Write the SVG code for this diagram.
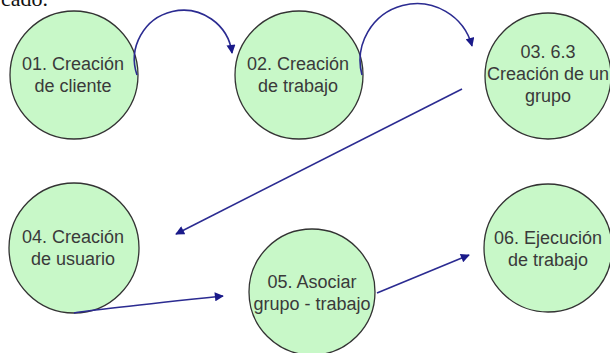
<svg xmlns="http://www.w3.org/2000/svg" width="610" height="353" viewBox="0 0 610 353">
<style>
.node circle{fill:#c8f8c8;stroke:#333;stroke-width:1.3}
.node text{font-family:"Liberation Sans",Arial,sans-serif;font-size:18px;fill:#3a3a3a;text-anchor:middle}
.edge{fill:none;stroke:#2b2b91;stroke-width:1.6;marker-end:url(#ah)}
</style>
<defs>
<marker id="ah" viewBox="0 0 10 10" refX="9" refY="5" markerWidth="10" markerHeight="9" markerUnits="userSpaceOnUse" orient="auto">
<path d="M0,0 L10,5 L0,10 z" fill="#1a1a8a"/>
</marker>
</defs>
<rect width="610" height="353" fill="#fff"/>
<text x="1" y="6" font-family="Liberation Serif,serif" font-size="22" fill="#111">cado.</text>
<g id="n1" class="node"><circle cx="74" cy="75" r="64"/><text x="73" y="70">01. Creación</text><text x="73" y="92">de cliente</text></g>
<g id="n2" class="node"><circle cx="299" cy="75" r="64"/><text x="298" y="70">02. Creación</text><text x="298" y="92">de trabajo</text></g>
<g id="n3" class="node"><circle cx="548" cy="76" r="63"/><text x="548" y="58">03. 6.3</text><text x="548" y="80">Creación de un</text><text x="548" y="102">grupo</text></g>
<g id="n4" class="node"><circle cx="74" cy="248" r="65"/><text x="73" y="243">04. Creación</text><text x="73" y="265">de usuario</text></g>
<g id="n5" class="node"><circle cx="312" cy="292" r="63"/><text x="312" y="288">05. Asociar</text><text x="312" y="310">grupo - trabajo</text></g>
<g id="n6" class="node"><circle cx="548" cy="248" r="64"/><text x="548" y="244">06. Ejecución</text><text x="548" y="266">de trabajo</text></g>
<g id="edges">
<path class="edge" d="M137,75 A49,49 0 1 1 232,53"/>
<path class="edge" d="M362,75 A56,56 0 1 1 472,46"/>
<path class="edge" d="M462,89 L176,234"/>
<path class="edge" d="M74,313 Q90,310 223,296"/>
<path class="edge" d="M377,293 L469,255"/>
</g>
</svg>
